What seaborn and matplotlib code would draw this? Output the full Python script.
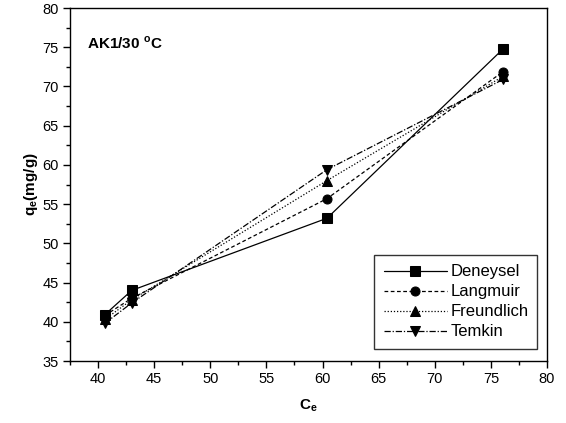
import matplotlib
matplotlib.use("Agg")
import matplotlib.pyplot as plt
import seaborn as sns
import pandas as pd
from matplotlib.ticker import MultipleLocator

ce = [40.6, 43.0, 60.4, 76.1]
deneysel = [40.9, 44.0, 53.2, 74.8]
langmuir = [40.8, 43.0, 55.7, 71.9]
freundlich = [40.3, 42.8, 58.0, 71.3]
temkin = [39.8, 42.4, 59.4, 70.9]
series_names = ["Deneysel", "Langmuir", "Freundlich", "Temkin"]

sns.set_style("ticks")
plt.rcParams['font.family'] = ['Liberation Sans', 'DejaVu Sans']
plt.rcParams['mathtext.fontset'] = 'custom'
plt.rcParams['mathtext.rm'] = 'Liberation Sans'
plt.rcParams['mathtext.bf'] = 'Liberation Sans:bold'
for k in ['text.color', 'axes.labelcolor', 'xtick.color', 'ytick.color', 'axes.edgecolor']:
    plt.rcParams[k] = 'black'

fig = plt.figure(figsize=(5.66, 4.23), dpi=100)
ax = fig.add_axes([70/566, 62/423, 477/566, 353/423])

styles = {
    "Deneysel": dict(marker="s", linestyle="-"),
    "Langmuir": dict(marker="o", linestyle=(0, (3, 2))),
    "Freundlich": dict(marker="^", linestyle=(0, (1, 1.5))),
    "Temkin": dict(marker="v", linestyle=(0, (5, 1.5, 1, 1.5))),
}
values = [deneysel, langmuir, freundlich, temkin]
for name, vals in zip(series_names, values):
    df = pd.DataFrame({"Ce": ce, "qe": vals})
    sns.lineplot(data=df, x="Ce", y="qe", ax=ax, color="black", linewidth=0.9,
                 markersize=6.5, markeredgecolor="black", label=name,
                 **styles[name])

ax.set_xlim(37.5, 80)
ax.set_ylim(35, 80)
ax.xaxis.set_major_locator(MultipleLocator(5))
ax.xaxis.set_minor_locator(MultipleLocator(2.5))
ax.yaxis.set_major_locator(MultipleLocator(5))
ax.yaxis.set_minor_locator(MultipleLocator(2.5))
ax.tick_params(which='major', direction='out', length=5, width=1, labelsize=10.5,
               top=False, right=False, pad=3)
ax.tick_params(which='minor', direction='out', length=3, width=1, top=False, right=False)
for sp in ax.spines.values():
    sp.set_visible(True)
    sp.set_linewidth(1)
    sp.set_color("black")

ax.set_xlabel(r"C$_\mathbf{e}$", fontsize=11, fontweight='bold', labelpad=8)
ax.set_ylabel(r"q$_\mathbf{e}$(mg/g)", fontsize=11, fontweight='bold', labelpad=2)

ax.text(0.036, 0.9, r"AK1/30 $^\mathbf{o}$C", transform=ax.transAxes,
        fontsize=11, fontweight='bold', va='center', ha='left')

leg = ax.legend(loc='lower right', bbox_to_anchor=(0.98, 0.035), fontsize=12,
                frameon=True, fancybox=False, edgecolor='black',
                handlelength=3.8, numpoints=1, borderpad=0.55, labelspacing=0.3,
                handletextpad=0.2, borderaxespad=0)
leg.get_frame().set_linewidth(1)

fig.savefig("out.png", dpi=100)
